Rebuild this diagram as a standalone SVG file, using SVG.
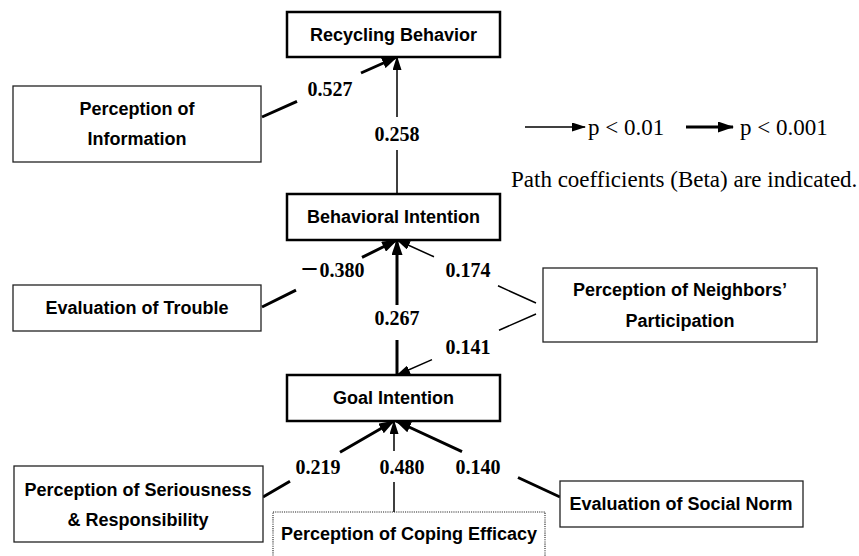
<svg xmlns="http://www.w3.org/2000/svg" width="859" height="556" viewBox="0 0 859 556">
<style>
.bg{fill:#fff}
.main{fill:#fff;stroke:#000;stroke-width:2.5}
.box{fill:#fff;stroke:#222;stroke-width:1.3}
.dot{fill:#fff;stroke:#222;stroke-width:1.1;stroke-dasharray:1.1 1.1}
.t{font-family:"Liberation Sans",Arial,sans-serif;font-weight:bold;font-size:18px;fill:#000;text-anchor:middle}
.n{font-family:"Liberation Serif","Times New Roman","Noto Sans CJK JP",serif;font-weight:bold;font-size:20px;fill:#000;text-anchor:middle}
.lg{font-family:"Liberation Serif","Times New Roman",serif;font-size:23px;fill:#000}
.thin{fill:none;stroke:#000;stroke-width:1.5;marker-end:url(#ahs)}
.thick{fill:none;stroke:#000;stroke-width:3;marker-end:url(#ahl)}
</style>
<defs>
<marker id="ahs" viewBox="0 0 14 9" refX="13" refY="4.5" markerWidth="14" markerHeight="9" markerUnits="userSpaceOnUse" orient="auto"><path d="M0,0 L14,4.5 L0,9 Z" fill="#000"/></marker>
<marker id="ahl" viewBox="0 0 16 11" refX="15" refY="5.5" markerWidth="16" markerHeight="11" markerUnits="userSpaceOnUse" orient="auto"><path d="M0,0 L16,5.5 L0,11 Z" fill="#000"/></marker>
</defs>
<rect class="bg" x="0" y="0" width="859" height="556"/>

<g id="connectors">
<path class="thick" d="M262,117 L297,101.4 M361,73 L397,57"/>
<path class="thin" d="M397,194 L397,150 M397,117 L397,57"/>
<path class="thick" d="M262,307 L296,290.1 M362,257.4 L397,240"/>
<path class="thick" d="M397,375 L397,340 M397,305 L397,240"/>
<path class="thin" d="M536,303 L498,285.8 M434,256.8 L397,240"/>
<path class="thin" d="M536,314 L499,330.2 M432,359.6 L397,375"/>
<path class="thick" d="M263,497 L290,481.3 M340,452.3 L394,421"/>
<path class="thin" d="M394,512 L394,482 M394,451 L394,421"/>
<path class="thick" d="M560,497 L518,477.5 M462,451.6 L396,421"/>
</g>

<g id="labels">
<text class="n" x="330" y="96">0.527</text>
<text class="n" x="397" y="141">0.258</text>
<text class="n" x="332" y="277">－0.380</text>
<text class="n" x="468" y="277">0.174</text>
<text class="n" x="397" y="325">0.267</text>
<text class="n" x="468" y="354">0.141</text>
<text class="n" x="318" y="474">0.219</text>
<text class="n" x="402" y="474">0.480</text>
<text class="n" x="478" y="474">0.140</text>
</g>

<g id="legend">
<path class="thin" d="M525,127 L585,127"/>
<text class="lg" x="588" y="135" font-size="22">p &lt; 0.01</text>
<path class="thick" d="M686,127 L733,127"/>
<text class="lg" x="740" y="135" font-size="22">p &lt; 0.001</text>
<text class="lg" x="511" y="187">Path coefficients (Beta) are indicated.</text>
</g>

<g id="recycling-behavior">
<rect class="main" x="287" y="12" width="213" height="45"/>
<text class="t" x="393.5" y="41">Recycling Behavior</text>
</g>
<g id="perception-information">
<rect class="box" x="13" y="86" width="248" height="76"/>
<text class="t" x="137" y="115">Perception of</text>
<text class="t" x="137" y="145">Information</text>
</g>
<g id="behavioral-intention">
<rect class="main" x="287" y="194" width="213" height="46"/>
<text class="t" x="393.5" y="223">Behavioral Intention</text>
</g>
<g id="evaluation-trouble">
<rect class="box" x="13" y="285" width="248" height="46"/>
<text class="t" x="137" y="314">Evaluation of Trouble</text>
</g>
<g id="perception-neighbors">
<rect class="box" x="543" y="268" width="274" height="74"/>
<text class="t" x="680" y="296">Perception of Neighbors’</text>
<text class="t" x="680" y="327">Participation</text>
</g>
<g id="goal-intention">
<rect class="main" x="287" y="375" width="213" height="46"/>
<text class="t" x="393.5" y="404">Goal Intention</text>
</g>
<g id="perception-seriousness">
<rect class="box" x="14" y="466" width="249" height="76"/>
<text class="t" x="138" y="496">Perception of Seriousness</text>
<text class="t" x="138" y="526">&amp; Responsibility</text>
</g>
<g id="perception-coping">
<rect class="dot" x="273" y="512" width="272" height="60"/>
<text class="t" x="409" y="540">Perception of Coping Efficacy</text>
</g>
<g id="evaluation-social-norm">
<rect class="box" x="560" y="481" width="243" height="46"/>
<text class="t" x="681" y="510">Evaluation of Social Norm</text>
</g>
</svg>
